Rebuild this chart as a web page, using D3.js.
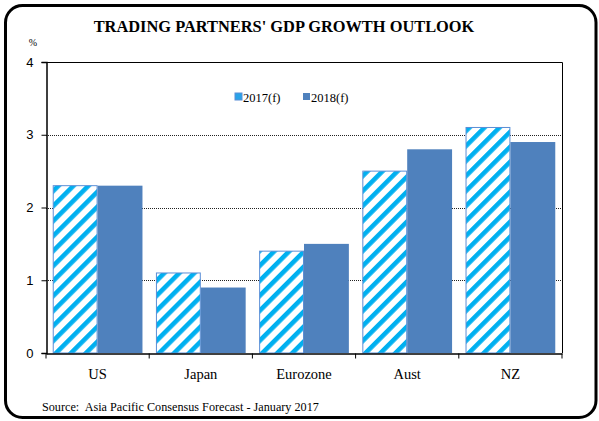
<!DOCTYPE html>
<html>
<head>
<meta charset="utf-8">
<script src="https://cdn.jsdelivr.net/npm/d3@7"></script>
<style>
  body { margin: 0; background: #fff; }
  svg text { fill: #000; }
</style>
</head>
<body>
<div id="chart"></div>
<script>
const categories = ['US', 'Japan', 'Eurozone', 'Aust', 'NZ'];
const seriesNames = ['2017(f)', '2018(f)'];
const values2017 = [2.3, 1.1, 1.4, 2.5, 3.1];
const values2018 = [2.3, 0.9, 1.5, 2.8, 2.9];
const yTicks = [0, 1, 2, 3, 4];

const W = 599, H = 421;
const plotL = 46, plotR = 562, plotT = 62, plotB = 353;
const serif = "'Liberation Serif', 'Times New Roman', serif";

const svg = d3.select('#chart').append('svg').attr('width', W).attr('height', H);

// hatched fill for the 2017 series
const defs = svg.append('defs');
const pat = defs.append('pattern').attr('id', 'hatch').attr('patternUnits', 'userSpaceOnUse')
    .attr('width', 10.6).attr('height', 10.6).attr('patternTransform', 'rotate(45)');
pat.append('rect').attr('width', 10.6).attr('height', 10.6).attr('fill', '#fff');
pat.append('rect').attr('x', 0).attr('width', 4.6).attr('height', 10.6).attr('fill', '#00b0f0');

// outer rounded frame
svg.append('rect').attr('x', 5.5).attr('y', 5.5).attr('width', 590.5).attr('height', 412)
    .attr('rx', 17).attr('fill', 'none').attr('stroke', '#000').attr('stroke-width', 3);

svg.append('text').attr('x', 284).attr('y', 32).attr('text-anchor', 'middle')
    .style('font-family', serif).style('font-weight', 'bold').style('font-size', '16.4px')
    .text("TRADING PARTNERS' GDP GROWTH OUTLOOK");

svg.append('text').attr('x', 33).attr('y', 46).attr('text-anchor', 'middle')
    .style('font-family', serif).style('font-size', '10px').text('%');

const x = d3.scaleBand().domain(categories).range([plotL, plotR]);
const xs = d3.scaleBand().domain(seriesNames).range([0, x.bandwidth()]).paddingOuter(0.15);
const y = d3.scaleLinear().domain([0, 4]).range([plotB, plotT]);

// gridlines
svg.append('g').selectAll('line').data(yTicks.filter(d => d > 0 && d < 4)).enter().append('line')
    .attr('x1', plotL).attr('x2', plotR).attr('y1', d => Math.round(y(d)) + 0.5).attr('y2', d => Math.round(y(d)) + 0.5)
    .attr('stroke', '#222').attr('stroke-width', 1).attr('stroke-dasharray', '1,1');

// top and right border of plot
svg.append('path').attr('d', `M${plotL},${plotT + 0.5}H${plotR + 0.5}V${plotB}`)
    .attr('fill', 'none').attr('stroke', '#000').attr('stroke-width', 1);

const groups = svg.append('g').selectAll('g').data(categories).enter().append('g')
    .attr('transform', d => `translate(${x(d)},0)`);

groups.append('rect')
    .attr('x', xs('2017(f)') + 0.5).attr('width', xs.bandwidth() - 1)
    .attr('y', (d, i) => y(values2017[i])).attr('height', (d, i) => plotB - y(values2017[i]))
    .attr('fill', 'url(#hatch)').attr('stroke', '#5b8ed6').attr('stroke-width', 1);

groups.append('rect')
    .attr('x', xs('2018(f)')).attr('width', xs.bandwidth())
    .attr('y', (d, i) => y(values2018[i])).attr('height', (d, i) => plotB - y(values2018[i]))
    .attr('fill', '#4f81bd');

// y axis
const yAxis = svg.append('g').attr('transform', `translate(${plotL + 0.5},0)`)
    .call(d3.axisLeft(y).tickValues(yTicks).tickFormat(d3.format('d')).tickSize(5).tickPadding(8));
yAxis.select('.domain').attr('stroke', '#000').attr('stroke-width', 1.5);
yAxis.selectAll('text').style('font-family', "'Liberation Sans', Arial, sans-serif").style('font-size', '13px');

// x axis
const xAxis = svg.append('g').attr('transform', `translate(0,${plotB + 0.5})`)
    .call(d3.axisBottom(x).tickSize(0).tickPadding(15));
xAxis.select('.domain').attr('stroke', '#000').attr('stroke-width', 1.5);
xAxis.selectAll('text').style('font-family', serif).style('font-size', '14.5px');
xAxis.selectAll('.sep').data(categories.concat(['end'])).enter().append('line')
    .attr('x1', (d, i) => i < categories.length ? x(d) : plotR).attr('x2', (d, i) => i < categories.length ? x(d) : plotR)
    .attr('y1', 0).attr('y2', 5).attr('stroke', '#000');

// legend
const legend = svg.append('g');
const legendX = [235, 303];
seriesNames.forEach((s, i) => {
    legend.append('rect').attr('x', legendX[i]).attr('y', 93).attr('width', 7).attr('height', 7)
        .attr('fill', i === 0 ? '#29a3e8' : '#4f81bd').attr('stroke', i === 0 ? '#5b8ed6' : 'none');
    legend.append('text').attr('x', legendX[i] + 8).attr('y', 101.5)
        .style('font-family', serif).style('font-size', '12.5px').text(s);
});

svg.append('text').attr('x', 42).attr('y', 411)
    .style('font-family', serif).style('font-size', '12.2px').style('white-space', 'pre')
    .text('Source:  Asia Pacific Consensus Forecast - January 2017');
</script>
</body>
</html>
